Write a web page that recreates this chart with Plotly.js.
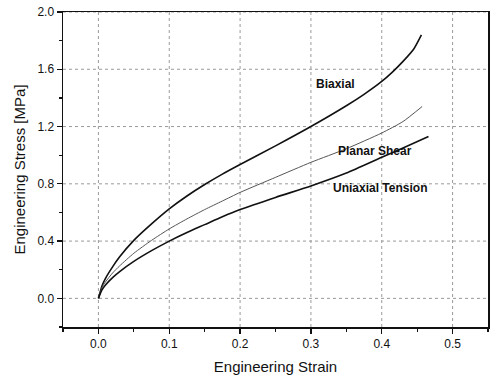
<!DOCTYPE html>
<html>
<head>
<meta charset="utf-8">
<script src="https://cdn.plot.ly/plotly-3.0.1.min.js"></script>
<style>html,body{margin:0;padding:0;background:#fff;}#chart{width:491px;height:376px;}</style>
</head>
<body>
<div id="chart"></div>
<script>
const biaxialStrain = [0, 0.005, 0.01, 0.02, 0.03, 0.05, 0.075, 0.1, 0.125, 0.15, 0.175, 0.2, 0.25, 0.3, 0.35, 0.375, 0.4, 0.415, 0.43, 0.445, 0.456];
const biaxialStress = [0, 0.087, 0.14, 0.22, 0.29, 0.405, 0.52, 0.625, 0.715, 0.795, 0.868, 0.935, 1.065, 1.20, 1.345, 1.425, 1.515, 1.58, 1.655, 1.74, 1.84];
const planarStrain = [0, 0.005, 0.01, 0.02, 0.03, 0.05, 0.075, 0.1, 0.125, 0.15, 0.175, 0.2, 0.25, 0.3, 0.35, 0.4, 0.43, 0.457];
const planarStress = [0, 0.075, 0.115, 0.177, 0.227, 0.315, 0.405, 0.485, 0.555, 0.62, 0.68, 0.74, 0.845, 0.95, 1.045, 1.155, 1.235, 1.34];
const uniaxialStrain = [0, 0.005, 0.01, 0.02, 0.03, 0.05, 0.075, 0.1, 0.125, 0.15, 0.175, 0.2, 0.25, 0.3, 0.35, 0.4, 0.43, 0.466];
const uniaxialStress = [0, 0.06, 0.094, 0.145, 0.187, 0.258, 0.333, 0.40, 0.46, 0.515, 0.57, 0.62, 0.705, 0.785, 0.875, 0.985, 1.05, 1.13];
const seriesNames = ["Biaxial", "Planar Shear", "Uniaxial Tension"];
const labelX = [0.335, 0.39, 0.397];
const labelY = [1.5, 1.03, 0.77];
const xTicks = [0, 0.1, 0.2, 0.3, 0.4, 0.5];
const xTickText = ['0.0', '0.1', '0.2', '0.3', '0.4', '0.5'];
const yTicks = [0, 0.4, 0.8, 1.2, 1.6, 2.0];
const yTickText = ['0.0', '0.4', '0.8', '1.2', '1.6', '2.0'];

const traces = [
  {x: biaxialStrain, y: biaxialStress, mode: 'lines', line: {color: '#111', width: 1.6, shape: 'spline', smoothing: 0.6}, name: seriesNames[0]},
  {x: planarStrain, y: planarStress, mode: 'lines', line: {color: '#555', width: 1, shape: 'spline', smoothing: 0.6}, name: seriesNames[1]},
  {x: uniaxialStrain, y: uniaxialStress, mode: 'lines', line: {color: '#111', width: 1.6, shape: 'spline', smoothing: 0.6}, name: seriesNames[2]}
];

const annotations = seriesNames.map((n, i) => ({
  x: labelX[i], y: labelY[i], xref: 'x', yref: 'y', text: '<b>' + n + '</b>',
  showarrow: false, font: {family: 'Liberation Sans, Arial', size: 12, color: '#111'}
}));

const gridStyle = {color: '#9a9a9a', width: 1, dash: 'dot'};
const shapes = [];
xTicks.forEach(v => shapes.push({type: 'line', layer: 'below', xref: 'x', yref: 'paper', x0: v, x1: v, y0: 0, y1: 1, line: gridStyle}));
yTicks.forEach(v => shapes.push({type: 'line', layer: 'below', xref: 'paper', yref: 'y', x0: 0, x1: 1, y0: v, y1: v, line: gridStyle}));

const axisCommon = {
  showline: true, linecolor: '#111', linewidth: 1.5, mirror: true,
  ticks: 'outside', ticklen: 5, tickwidth: 1.2, tickcolor: '#111',
  showgrid: false, zeroline: false,
  tickfont: {family: 'Liberation Sans, Arial', size: 12, color: '#111'}
};

const layout = {
  width: 491, height: 376,
  margin: {l: 63, r: 3, t: 12, b: 49},
  paper_bgcolor: '#fff', plot_bgcolor: '#fff',
  showlegend: false,
  font: {family: 'Liberation Sans, Arial', color: '#111'},
  xaxis: Object.assign({}, axisCommon, {
    range: [-0.05, 0.55], tickmode: 'array',
    tickvals: xTicks, ticktext: xTickText,
    minor: {dtick: 0.05, tick0: 0, ticks: 'outside', ticklen: 3, tickcolor: '#111', showgrid: false},
    title: {text: 'Engineering Strain', font: {size: 15, family: 'Liberation Sans, Arial'}, standoff: 11}
  }),
  yaxis: Object.assign({}, axisCommon, {
    range: [-0.2, 2.0], tickmode: 'array',
    tickvals: yTicks, ticktext: yTickText,
    minor: {dtick: 0.2, tick0: 0, ticks: 'outside', ticklen: 3, tickcolor: '#111', showgrid: false},
    title: {text: 'Engineering Stress [MPa]', font: {size: 15, family: 'Liberation Sans, Arial'}, standoff: 8}
  }),
  shapes: shapes,
  annotations: annotations
};

Plotly.newPlot('chart', traces, layout, {displayModeBar: false, staticPlot: true});
</script>
</body>
</html>
